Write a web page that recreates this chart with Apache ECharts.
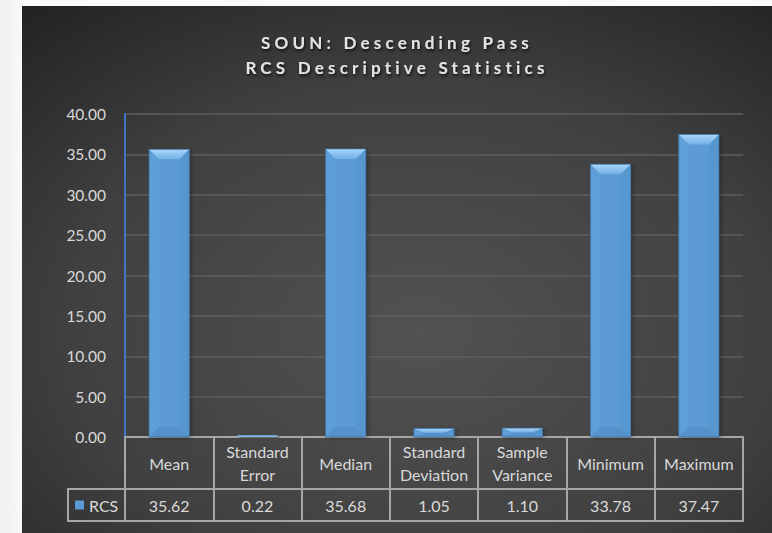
<!DOCTYPE html>
<html>
<head>
<meta charset="utf-8">
<script src="https://cdn.jsdelivr.net/npm/echarts@6/dist/echarts.min.js"></script>
<style>
  html, body { margin: 0; padding: 0; width: 772px; height: 533px; overflow: hidden;
    background: linear-gradient(to right, #f1f1f1, #fbfbfb 30px); }
  #chart { position: absolute; left: 22px; top: 6px; width: 750px; height: 527px; }
</style>
</head>
<body>
<div id="chart"></div>
<script>
const titleLines = ['SOUN: Descending Pass', 'RCS Descriptive Statistics'];
const seriesName = 'RCS';
const categories = ['Mean', 'Standard Error', 'Median', 'Standard Deviation', 'Sample Variance', 'Minimum', 'Maximum'];
const headerLabels = ['Mean', 'Standard\nError', 'Median', 'Standard\nDeviation', 'Sample\nVariance', 'Minimum', 'Maximum'];
const values = [35.62, 0.22, 35.68, 1.05, 1.10, 33.78, 37.47];
const yTicks = { min: 0, max: 40, interval: 5 };

const FONT = 'Lato, "Open Sans", sans-serif';
const TXT = '#d9d9d9';
const TBL = '#a6a6a6';

const chart = echarts.init(document.getElementById('chart'), null, { renderer: 'svg' });

function renderBar(params, api) {
  const idx = api.value(0);
  const v = api.value(1);
  const top = api.coord([idx, v]);
  const base = api.coord([idx, 0]);
  const size = api.size([1, 0]);
  const w = size[0] * 0.455;
  const x = top[0] - w / 2;
  const y = top[1];
  const h = base[1] - top[1];
  if (h <= 0) return null;
  const b = Math.min(10, h / 2);
  const bx = Math.min(10, w / 2);
  const tiny = h < 4;
  return {
    type: 'group',
    children: [
      { type: 'rect', shape: { x: x, y: y, width: w, height: h },
        style: { fill: tiny ? '#7fb6e6' : '#5b9bd5',
          shadowBlur: tiny ? 0 : 4, shadowColor: 'rgba(0,0,0,0.35)', shadowOffsetX: 2, shadowOffsetY: 1 } },
      { type: 'polygon', invisible: tiny, shape: { points: [[x + w, y], [x + w, y + h], [x + w - bx, y + h - b], [x + w - bx, y + b]] },
        style: { fill: '#5797d0' } },
      { type: 'polygon', invisible: tiny, shape: { points: [[x, y], [x + bx, y + b], [x + bx, y + h - b], [x, y + h]] },
        style: { fill: '#5e9fd9' } },
      { type: 'polygon', invisible: tiny, shape: { points: [[x, y + h], [x + w, y + h], [x + w - bx, y + h - b], [x + bx, y + h - b]] },
        style: { fill: '#5592ca' } },
      { type: 'polygon', invisible: tiny, shape: { points: [[x, y], [x + w, y], [x + w - bx, y + b], [x + bx, y + b]] },
        style: { fill: new echarts.graphic.LinearGradient(0, 0, 0, 1, [
          { offset: 0, color: '#a9d6fa' }, { offset: 1, color: '#72b0e6' }]) } },
      { type: 'rect', invisible: tiny, shape: { x: x, y: y, width: w, height: h },
        style: { fill: 'none', stroke: '#41729f', lineWidth: 0.8 } }
    ]
  };
}

const option = {
  animation: false,
  graphic: [
    { type: 'rect', z: -100, silent: true, shape: { x: 0, y: 0, width: 750, height: 527 },
      style: { fill: new echarts.graphic.RadialGradient(0.53, 0.62, 0.85, [
        { offset: 0, color: '#525252' }, { offset: 0.55, color: '#404040' }, { offset: 1, color: '#1f1f1f' }]) } },
    { type: 'rect', z: 10, silent: true, shape: { x: 46, y: 483, width: 57, height: 32 },
      style: { fill: 'none', stroke: TBL, lineWidth: 2 } }
  ],
  title: {
    text: titleLines.join('\n'),
    left: 'center', top: 24, padding: 0,
    textStyle: { fontFamily: FONT, fontWeight: 'bold', fontSize: 17, lineHeight: 25, color: '#e4e4e4',
      textShadowColor: 'rgba(0,0,0,0.75)', textShadowBlur: 3, textShadowOffsetX: 1, textShadowOffsetY: 2 }
  },
  legend: {
    data: [{ name: seriesName, icon: 'rect' }],
    left: 53, top: 491, padding: 0, itemWidth: 9, itemHeight: 9, itemGap: 5,
    textStyle: { fontFamily: FONT, fontSize: 16, color: TXT }
  },
  grid: { left: 103, right: 29, top: 108, bottom: 96, containLabel: false },
  xAxis: [
    { type: 'category', data: categories, position: 'bottom',
      axisLine: { show: true, lineStyle: { color: TBL, width: 2 } },
      axisTick: { show: true, length: 84, interval: 0, alignWithLabel: false, lineStyle: { color: TBL, width: 2 } },
      axisLabel: { interval: 0, margin: 26, verticalAlign: 'middle', lineHeight: 23,
        fontFamily: FONT, fontSize: 16, color: TXT,
        formatter: (v, i) => headerLabels[i] },
      splitLine: { show: false } },
    { type: 'category', data: categories, position: 'bottom', offset: 52,
      axisLine: { show: true, lineStyle: { color: TBL, width: 2 } },
      axisTick: { show: false },
      axisLabel: { interval: 0, margin: 16, verticalAlign: 'middle',
        fontFamily: FONT, fontSize: 16, color: TXT,
        formatter: (v, i) => values[i].toFixed(2) } },
    { type: 'category', data: categories, position: 'bottom', offset: 84,
      axisLine: { show: true, lineStyle: { color: TBL, width: 2 } },
      axisTick: { show: false }, axisLabel: { show: false } }
  ],
  yAxis: {
    type: 'value', min: yTicks.min, max: yTicks.max, interval: yTicks.interval,
    axisLine: { show: true, lineStyle: { color: '#4472c4', width: 2 } },
    axisTick: { show: false },
    axisLabel: { margin: 19, fontFamily: FONT, fontSize: 15.5, color: TXT,
      formatter: v => v.toFixed(2) },
    splitLine: { lineStyle: { color: '#5e5e5e', width: 1.5 } }
  },
  series: [{
    name: seriesName, type: 'custom', xAxisIndex: 0, yAxisIndex: 0,
    itemStyle: { color: '#5b9bd5' },
    encode: { x: 0, y: 1 },
    data: values.map((v, i) => [i, v]),
    renderItem: renderBar
  }]
};

chart.setOption(option);

function spaceTitle() {
  document.querySelectorAll('#chart svg text').forEach(t => {
    const s = t.textContent;
    if (titleLines.indexOf(s) >= 0) t.setAttribute('letter-spacing', '4.2');
  });
}
spaceTitle();
chart.on('finished', spaceTitle);
</script>
</body>
</html>
